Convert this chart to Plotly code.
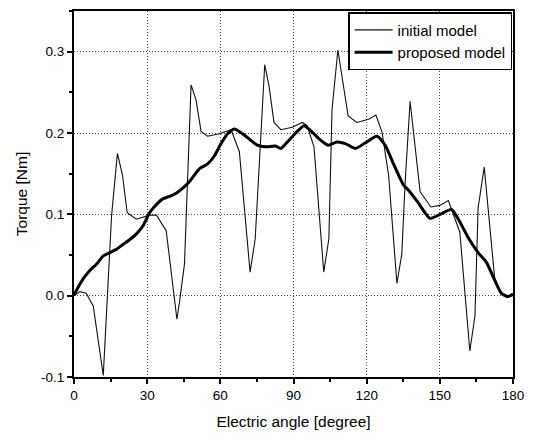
import plotly.graph_objects as go

# Initial model (thin line)
init_angle = [0, 2.4, 5, 7.9, 12, 15.4, 17.8, 19.9, 21.8, 25.6, 31, 33.8, 37.8, 42.2, 43.3, 45.3,
              48, 50, 52.1, 54.8, 59.6, 64.4, 67.8, 72.2, 74.3, 78.2, 80, 82, 84.8, 89.5,
              93.6, 95.6, 98.4, 102.4, 104.5, 105.8, 108.2, 112.4, 116, 120.8, 123.8, 126.3,
              129, 132.4, 134.4, 135.8, 137.8, 141.9, 146.3, 150, 153.5, 155.5, 158.2, 162.3,
              164.4, 165.7, 168.2, 172.5, 175, 177.5, 180]
init_torque = [0, 0.005, 0.003, -0.013, -0.098, 0.098, 0.175, 0.148, 0.102, 0.094, 0.099, 0.099,
               0.08, -0.029, -0.007, 0.039, 0.259, 0.241, 0.202, 0.196, 0.199, 0.204, 0.177,
               0.029, 0.07, 0.284, 0.257, 0.213, 0.204, 0.207, 0.213, 0.209, 0.183, 0.029,
               0.07, 0.229, 0.302, 0.221, 0.213, 0.217, 0.222, 0.201, 0.148, 0.015, 0.051,
               0.14, 0.239, 0.128, 0.109, 0.111, 0.117, 0.1, 0.078, -0.068, -0.025, 0.108,
               0.158, 0.021, 0.002, -0.002, 0]

# Proposed model (thick line)
prop_angle = [0, 0.4, 3.8, 6.5, 9.3, 12, 14.7, 17.4, 20.1, 22.9, 25.6, 28.3, 31, 33.8, 36.4,
              39.2, 41.9, 45.3, 47.3, 51.4, 54.8, 57.6, 60.3, 63, 65.7, 69.1, 72.5, 75.2,
              78.6, 82.7, 84.8, 87.5, 90.9, 94.3, 97, 100.4, 104.2, 107.9, 111.3, 115.4,
              119.5, 124.2, 127.6, 131, 135.1, 137.1, 141.2, 146, 150.1, 154.8, 157.6,
              161.6, 165.7, 169.1, 172.5, 175.2, 178, 180]
prop_torque = [0, 0.003, 0.021, 0.031, 0.039, 0.049, 0.053, 0.057, 0.063, 0.069, 0.076, 0.086,
               0.102, 0.112, 0.119, 0.122, 0.126, 0.134, 0.140, 0.156, 0.162, 0.172, 0.187,
               0.199, 0.205, 0.199, 0.191, 0.185, 0.183, 0.184, 0.181, 0.189, 0.2, 0.209,
               0.203, 0.193, 0.185, 0.189, 0.187, 0.181, 0.188, 0.196, 0.185, 0.162, 0.136,
               0.13, 0.114, 0.095, 0.1, 0.106, 0.094, 0.0715, 0.053, 0.041, 0.019, 0.003,
               -0.001, 0.002]

x_ticks = [0, 30, 60, 90, 120, 150, 180]
y_ticks = [-0.1, 0.0, 0.1, 0.2, 0.3]

FONT = "Liberation Sans, Arial, sans-serif"

fig = go.Figure()
fig.add_trace(go.Scatter(x=init_angle, y=init_torque, mode="lines", name="initial model",
                         line=dict(color="#111111", width=1.1)))
fig.add_trace(go.Scatter(x=prop_angle, y=prop_torque, mode="lines", name="proposed model",
                         line=dict(color="#000000", width=3, shape="spline", smoothing=0.6)))

axis_common = dict(
    showline=True, linecolor="black", linewidth=2, mirror=True,
    ticks="outside", ticklen=5, tickwidth=1.5, tickcolor="black",
    showgrid=True, gridcolor="#444444", gridwidth=1, griddash="1px,2px",
    zeroline=False,
    tickfont=dict(family=FONT, size=13.5, color="black"),
)

fig.update_xaxes(range=[0, 180], tickvals=x_ticks, ticktext=[str(v) for v in x_ticks],
                 minor=dict(ticks="outside", ticklen=3, dtick=15, tick0=0, showgrid=False,
                            tickcolor="black"),
                 title=dict(text="Electric angle [degree]", font=dict(family=FONT, size=15.5, color="black"),
                            standoff=14),
                 **axis_common)
fig.update_yaxes(range=[-0.1, 0.35], tickvals=y_ticks, ticktext=[f"{v:.1f}" for v in y_ticks],
                 minor=dict(ticks="outside", ticklen=3, dtick=0.05, tick0=0, showgrid=False,
                            tickcolor="black"),
                 title=dict(text="Torque [Nm]", font=dict(family=FONT, size=15.5, color="black"),
                            standoff=10),
                 **axis_common)

fig.update_layout(
    width=533, height=437,
    margin=dict(l=74, r=18, t=9, b=57),
    paper_bgcolor="white", plot_bgcolor="white",
    showlegend=True,
    legend=dict(x=0.998, y=0.997, xanchor="right", yanchor="top",
                bgcolor="white", bordercolor="black", borderwidth=1.5,
                font=dict(family=FONT, size=15, color="black"),
                itemwidth=38),
)

fig.write_html("out.html", config={"displayModeBar": False},
               post_script="document.body.style.margin='0';document.body.style.padding='0';")
